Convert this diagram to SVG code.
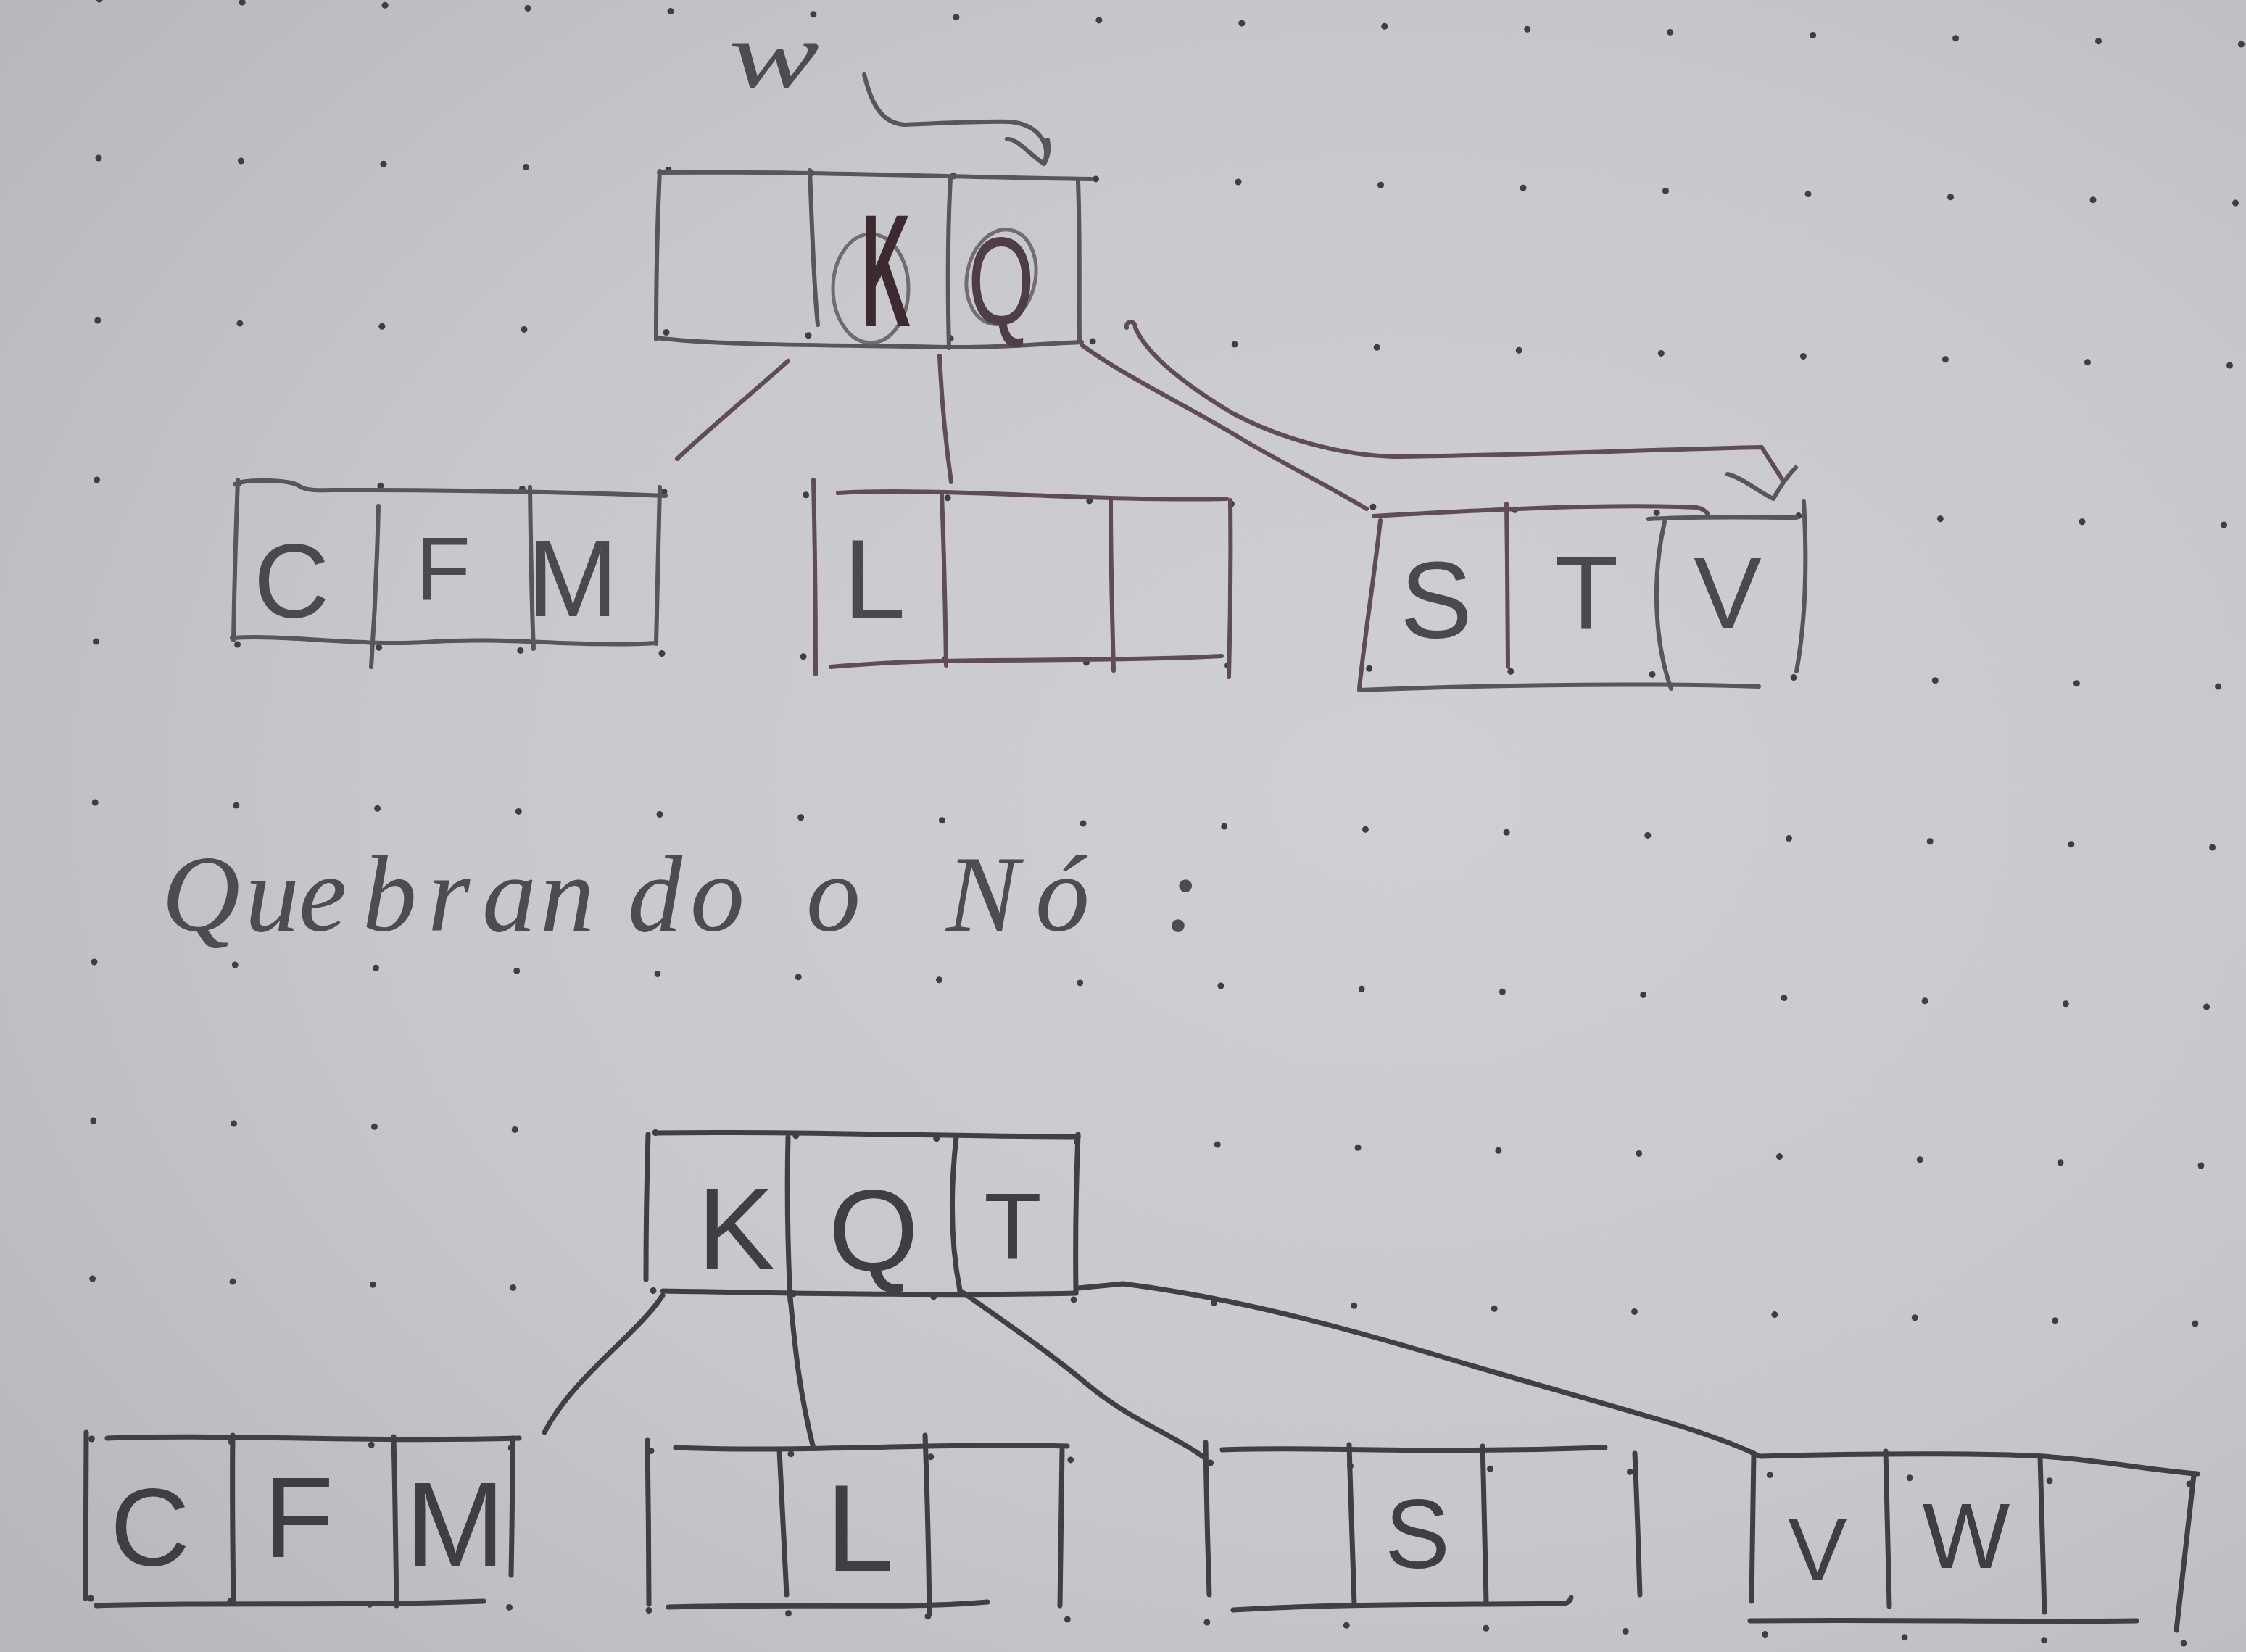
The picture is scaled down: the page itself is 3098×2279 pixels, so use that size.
<svg xmlns="http://www.w3.org/2000/svg" xmlns:xlink="http://www.w3.org/1999/xlink" width="3098" height="2279" viewBox="0 0 3098 2279">
<defs>
<style>
.ink{fill:none;stroke:#58555c;stroke-width:6;stroke-linecap:round;stroke-linejoin:round}
.ink2{fill:none;stroke:#403f46;stroke-width:7;stroke-linecap:round;stroke-linejoin:round}
.red{stroke:#5f4c55}
.lt{font-family:"Liberation Sans",Arial,sans-serif;fill:#4a4950;text-anchor:middle}
.lt2{font-family:"Liberation Sans",Arial,sans-serif;fill:#3f3e45;text-anchor:middle}
.dot{fill:#3e3e44}
.hand{font-family:"Liberation Serif","Times New Roman",serif;font-style:italic;fill:#4d4c53}
</style>
<radialGradient id="paper" cx="0.62" cy="0.48" r="0.8">
<stop offset="0" stop-color="#d0d0d4"/>
<stop offset="0.55" stop-color="#c7c7cc"/>
<stop offset="1" stop-color="#b6b6bd"/>
</radialGradient>
<g id="dotrow">
<circle class="dot" cx="0" cy="0" r="4.5"/><circle class="dot" cx="196.5" cy="4.1" r="4.5"/><circle class="dot" cx="393" cy="8.3" r="4.5"/><circle class="dot" cx="589.5" cy="12.4" r="4.5"/><circle class="dot" cx="786" cy="16.5" r="4.5"/><circle class="dot" cx="982.5" cy="20.7" r="4.5"/><circle class="dot" cx="1179" cy="24.8" r="4.5"/><circle class="dot" cx="1375.5" cy="28.9" r="4.5"/><circle class="dot" cx="1572" cy="33" r="4.5"/><circle class="dot" cx="1768.5" cy="37.2" r="4.5"/><circle class="dot" cx="1965" cy="41.3" r="4.5"/><circle class="dot" cx="2161.5" cy="45.4" r="4.5"/><circle class="dot" cx="2358" cy="49.6" r="4.5"/><circle class="dot" cx="2554.5" cy="53.7" r="4.5"/><circle class="dot" cx="2751" cy="57.8" r="4.5"/><circle class="dot" cx="2947.5" cy="62" r="4.5"/>
</g>
</defs>
<rect x="0" y="0" width="3098" height="2279" fill="url(#paper)"/>
<g id="dot-grid">
<use xlink:href="#dotrow" transform="translate(137.2,-1) scale(1.0023,1)"/>
<use xlink:href="#dotrow" transform="translate(136,218)"/>
<use xlink:href="#dotrow" transform="translate(134.8,442) scale(0.9977,1)"/>
<use xlink:href="#dotrow" transform="translate(133.6,662) scale(0.9954,1)"/>
<use xlink:href="#dotrow" transform="translate(132.4,885) scale(0.9931,1)"/>
<use xlink:href="#dotrow" transform="translate(131.2,1107) scale(0.9908,1)"/>
<use xlink:href="#dotrow" transform="translate(130,1327) scale(0.9885,1)"/>
<use xlink:href="#dotrow" transform="translate(128.8,1546) scale(0.9863,1)"/>
<use xlink:href="#dotrow" transform="translate(127.6,1764) scale(0.984,1)"/>
<use xlink:href="#dotrow" transform="translate(126.4,1985) scale(0.9817,1)"/>
<use xlink:href="#dotrow" transform="translate(125.2,2205) scale(0.9794,1)"/>
</g>

<g id="label-w">
<text class="hand" x="1005" y="120" font-size="130" textLength="125" lengthAdjust="spacingAndGlyphs" fill="#505057">w</text>
</g>

<g id="title">
<text class="hand" font-size="150" y="1284" x="223 338 412 500 590 665 745 866 952 1040 1112 1200 1305 1428 1606">Quebrando o Nó:</text>
</g>

<g id="connectors">
<path class="ink red" d="M1087,498 C1040,540 980,590 934,633"/>
<path class="ink red" d="M1296,491 Q1300,580 1312,665"/>
<path class="ink red" d="M1492,476 C1560,525 1640,560 1720,610 C1790,650 1840,675 1885,702"/>
<path class="ink" d="M1192,103 C1200,135 1212,170 1248,172 C1300,170 1350,167 1393,168 C1428,171 1450,195 1441,224"/>
<path class="ink" d="M1389,192 C1402,190 1420,213 1440,226 C1447,214 1447,204 1445,193"/>
<path class="ink red" d="M1554,452 C1552,442 1566,441 1566,452 C1580,485 1625,525 1700,570 C1765,605 1850,628 1922,630 C2100,628 2280,620 2430,617 C2440,633 2450,648 2460,664"/>
<path class="ink" d="M2383,654 C2405,660 2425,678 2446,688 C2455,672 2466,656 2477,645"/>
<path class="ink2" d="M914,1787 C880,1840 790,1900 751,1976"/>
<path class="ink2" d="M1090,1790 C1095,1840 1100,1910 1122,1998"/>
<path class="ink2" d="M1324,1780 C1380,1820 1440,1860 1500,1910 C1560,1960 1620,1980 1660,2010"/>
<path class="ink2" d="M1487,1777 L1549,1771 C1700,1790 1850,1830 2000,1875 C2200,1935 2350,1970 2425,2008"/>
</g>

<g id="node-top-root">
<path class="ink" d="M909,238 C1100,236 1300,244 1505,247"/>
<path class="ink" d="M910,236 C906,320 905,400 905,468"/>
<path class="ink" d="M905,466 C1000,478 1200,476 1310,479 C1380,480 1440,474 1492,472"/>
<path class="ink" d="M1487,250 C1490,330 1488,410 1489,470"/>
<path class="ink" d="M1117,235 C1120,310 1122,390 1128,448"/>
<path class="ink" d="M1311,246 C1307,320 1307,400 1309,480"/>
<ellipse cx="1201" cy="398" rx="52" ry="75" fill="none" stroke="#6e6c72" stroke-width="5"/>
<text class="lt" x="1188" y="450" font-size="220" font-weight="bold" textLength="68" lengthAdjust="spacingAndGlyphs" style="text-anchor:start;fill:#3c2a30">K</text>
<ellipse cx="1381" cy="382" rx="47" ry="66" fill="none" stroke="#706e74" stroke-width="5" transform="rotate(12 1381 382)"/>
<text class="lt" x="1335" y="447" font-size="170" textLength="92" lengthAdjust="spacingAndGlyphs" style="text-anchor:start;fill:#4f3d45">Q</text>
</g>

<g id="node-top-cfm">
<path class="ink" d="M324,668 C340,660 400,662 412,670 C422,678 445,676 470,676 C600,676 760,678 918,684"/>
<path class="ink" d="M328,662 C325,740 323,820 322,883"/>
<path class="ink" d="M910,672 C908,750 907,820 905,888"/>
<path class="ink" d="M320,880 C400,875 500,893 600,885 C700,879 800,893 905,887"/>
<path class="ink" d="M522,698 C520,780 516,860 512,920"/>
<path class="ink" d="M731,672 C732,750 733,830 736,895"/>
<text class="lt" x="402" y="852" font-size="145">C</text>
<text class="lt" x="611" y="828" font-size="125">F</text>
<text class="lt" x="790" y="850" font-size="150">M</text>
</g>

<g id="node-top-l">
<path class="ink red" d="M1122,662 C1124,750 1125,850 1125,930"/>
<path class="ink red" d="M1156,680 C1300,672 1500,692 1692,688"/>
<path class="ink red" d="M1697,690 C1698,780 1697,860 1695,934"/>
<path class="ink red" d="M1146,920 C1300,905 1500,915 1685,905"/>
<path class="ink red" d="M1299,682 C1302,760 1304,850 1305,918"/>
<path class="ink red" d="M1532,690 C1532,770 1534,850 1536,925"/>
<text class="lt" x="1206" y="853" font-size="155">L</text>
</g>

<g id="node-top-stv">
<path class="ink red" d="M1904,718 C1895,800 1882,880 1875,950"/>
<path class="ink red" d="M1895,712 C2000,706 2200,694 2340,700 C2350,702 2354,706 2356,710"/>
<path class="ink" d="M2274,716 C2350,712 2420,714 2478,714"/>
<path class="ink" d="M2488,692 C2493,780 2490,860 2478,926"/>
<path class="ink red" d="M2078,695 C2079,770 2080,850 2080,920"/>
<path class="ink" d="M2296,720 C2280,790 2280,880 2305,950"/>
<path class="ink" d="M1875,952 C2050,945 2250,942 2426,947"/>
<text class="lt" x="1981" y="880" font-size="150">S</text>
<text class="lt" x="2188" y="868" font-size="145">T</text>
<text class="lt" x="2383" y="866" font-size="140">V</text>
</g>

<g id="node-bottom-kqt">
<path class="ink2" d="M894,1565 C892,1630 891,1700 891,1765"/>
<path class="ink2" d="M904,1563 C1100,1560 1300,1568 1487,1568"/>
<path class="ink2" d="M1487,1565 C1484,1640 1483,1710 1484,1782"/>
<path class="ink2" d="M914,1781 C1100,1784 1300,1788 1484,1784"/>
<path class="ink2" d="M1087,1569 C1085,1650 1087,1730 1090,1795"/>
<path class="ink2" d="M1319,1568 C1310,1650 1312,1720 1324,1780"/>
<text class="lt2" x="1015" y="1750" font-size="160">K</text>
<text class="lt2" x="1205" y="1753" font-size="160">Q</text>
<text class="lt2" x="1397" y="1737" font-size="130">T</text>
</g>

<g id="node-bottom-cfm">
<path class="ink2" d="M119,1976 C118,2060 118,2140 118,2205"/>
<path class="ink2" d="M148,1984 C300,1978 500,1990 716,1984"/>
<path class="ink2" d="M707,1984 C707,2060 706,2120 705,2173"/>
<path class="ink2" d="M133,2215 C300,2210 500,2216 667,2209"/>
<path class="ink2" d="M321,1980 C320,2060 321,2140 322,2212"/>
<path class="ink2" d="M543,1982 C545,2060 546,2140 547,2215"/>
<text class="lt2" x="207" y="2160" font-size="152">C</text>
<text class="lt2" x="412" y="2148" font-size="158">F</text>
<text class="lt2" x="628" y="2160" font-size="165">M</text>
</g>

<g id="node-bottom-l">
<path class="ink2" d="M893,1987 C894,2060 895,2140 895,2213"/>
<path class="ink2" d="M932,1997 C1100,2004 1300,1990 1472,1995"/>
<path class="ink2" d="M1075,2000 C1078,2070 1082,2140 1085,2200"/>
<path class="ink2" d="M1276,1980 C1279,2060 1281,2150 1282,2227"/>
<path class="ink2" d="M1465,2000 C1464,2080 1463,2150 1462,2215"/>
<path class="ink2" d="M922,2217 C1100,2212 1250,2220 1362,2210"/>
<text class="lt2" x="1186" y="2167" font-size="170">L</text>
</g>

<g id="node-bottom-s">
<path class="ink2" d="M1663,1990 C1664,2060 1666,2140 1668,2200"/>
<path class="ink2" d="M1686,2000 C1800,1995 1950,2006 2214,1997"/>
<path class="ink2" d="M1861,1993 C1863,2070 1866,2150 1868,2213"/>
<path class="ink2" d="M2045,1995 C2047,2070 2049,2150 2050,2210"/>
<path class="ink2" d="M2255,2005 C2258,2070 2260,2140 2262,2200"/>
<path class="ink2" d="M1701,2221 C1850,2212 2000,2214 2158,2212 C2163,2211 2166,2208 2167,2204"/>
<text class="lt2" x="1955" y="2163" font-size="135">S</text>
</g>

<g id="node-bottom-vw">
<path class="ink2" d="M2419,2005 C2418,2080 2417,2150 2416,2209"/>
<path class="ink2" d="M2428,2009 C2600,2004 2780,2005 2830,2010 C2900,2015 2980,2030 3031,2033"/>
<path class="ink2" d="M2601,2002 C2603,2080 2605,2150 2606,2216"/>
<path class="ink2" d="M2814,2009 C2816,2090 2818,2160 2820,2224"/>
<path class="ink2" d="M3026,2035 C3018,2110 3010,2180 3002,2249"/>
<path class="ink2" d="M2414,2236 C2600,2234 2800,2238 2947,2236"/>
<text class="lt2" x="2507" y="2180" font-size="122">V</text>
<text class="lt2" x="2712" y="2163" font-size="128">W</text>
</g>
</svg>
